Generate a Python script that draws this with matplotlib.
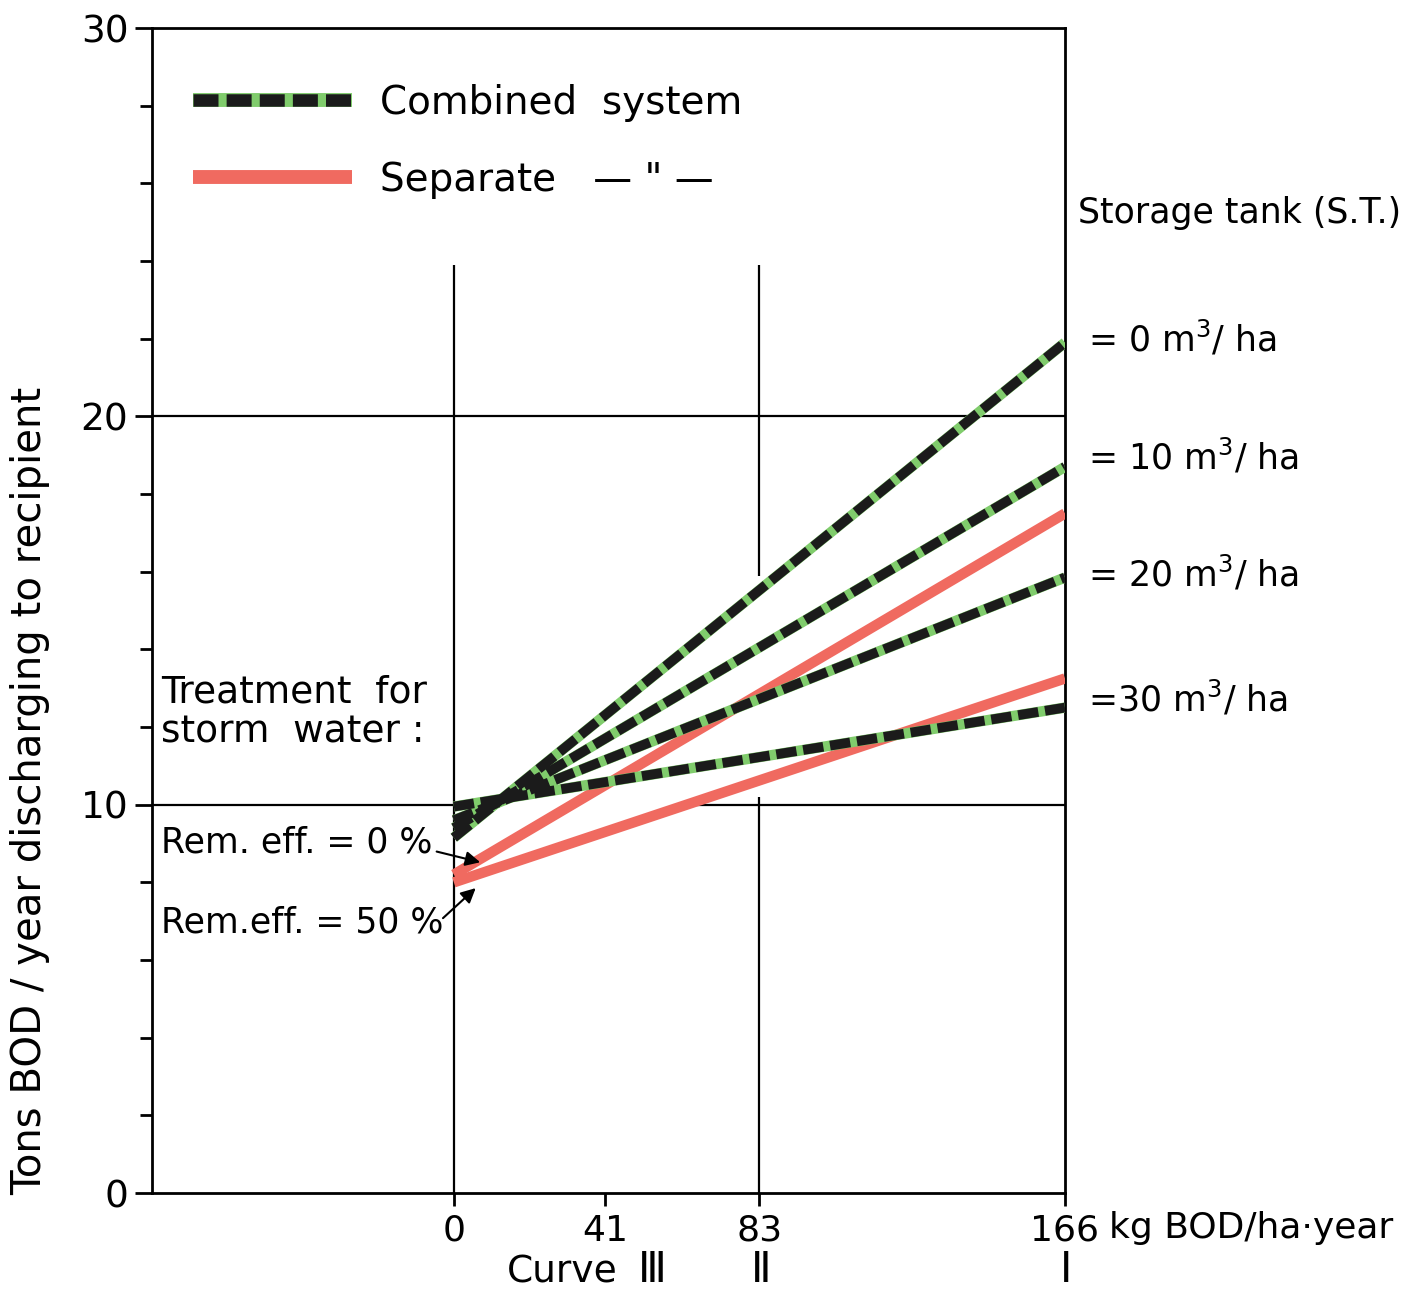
import matplotlib.pyplot as plt
from matplotlib.lines import Line2D
from matplotlib.legend_handler import HandlerTuple

plt.rcParams['font.family'] = ['DejaVu Sans']
plt.rcParams['mathtext.default'] = 'regular'

# load from the area, kg BOD/ha-year (curve III, II, I)
load = [0, 166]
xticks = [0, 41, 83, 166]
xlabels = ['0', '41', '83', '166']
curve_names = ['Ⅲ', 'Ⅱ', 'Ⅰ']
curve_x = [53.8, 83.4, 166.3]

# combined system, one line per storage tank volume
tank_labels = ['= 0 m$^3$/ ha', '= 10 m$^3$/ ha', '= 20 m$^3$/ ha', '=30 m$^3$/ ha']
comb_0 = [9.15, 21.9]
comb_10 = [9.4, 18.7]
comb_20 = [9.6, 15.85]
comb_30 = [9.95, 12.5]
tank_label_y = [21.66, 18.62, 15.61, 12.39]

# separate system, removal efficiency for storm water 0 % and 50 %
sep_0 = [8.2, 17.5]
sep_50 = [8.0, 13.25]

red = '#f06a60'
green = '#80cc6c'
black = '#1b1b1b'

fig = plt.figure(figsize=(14.16, 12.91), dpi=100)
ax = fig.add_axes([0.1073, 0.0759, 0.6448, 0.9024])
ax.set_xlim(-82, 166)
ax.set_ylim(0, 30)

# thin reference lines of the original drawing
ax.vlines([0, 83, 83], [0, 0, 15.9], [23.9, 10.2, 23.9], color='black', lw=1.6, zorder=1)
ax.hlines([20, 10, 10], [-82, -82, 64.4], [166, 0, 166], color='black', lw=1.6, zorder=1)

for ys in [sep_0, sep_50]:
    ax.plot(load, ys, color=red, lw=7.5, solid_capstyle='butt', zorder=3)
for ys in [comb_0, comb_10, comb_20, comb_30]:
    ax.plot(load, ys, color=green, lw=7.5, solid_capstyle='butt', zorder=4)
    ax.plot(load, ys, color=black, lw=7, dashes=(2.1, 0.7),
            dash_capstyle='butt', zorder=5)

# axes look
for s in ax.spines.values():
    s.set_linewidth(2)
ax.set_yticks([0, 10, 20, 30])
ax.set_yticks(range(0, 31, 2), minor=True)
ax.set_xticks(xticks)
ax.set_xticklabels(xlabels)
ax.tick_params(axis='y', which='major', length=12, width=2, pad=5, labelsize=27)
ax.tick_params(axis='y', which='minor', length=9, width=2)
ax.tick_params(axis='x', which='major', length=9, width=2, pad=6, labelsize=26)

ax.set_ylabel('Tons BOD / year discharging to recipient', fontsize=29)
ax.yaxis.set_label_coords(-0.112, 0.345)

ax.annotate('kg BOD/ha·year', xy=(166, 0), xytext=(44, -35),
            textcoords='offset pixels', ha='left', va='center',
            fontsize=26, annotation_clip=False)
ax.text(44.6, -2.3, 'Curve', ha='right', va='baseline', fontsize=27, clip_on=False)
for cx, cn in zip(curve_x, curve_names):
    ax.text(cx, -2.3, cn, ha='center', va='baseline', fontsize=30, clip_on=False)

# legend
h_comb = (Line2D([], [], color=green, lw=10, solid_capstyle='butt'),
          Line2D([], [], color=black, lw=9, dashes=(2.0, 0.65), dash_capstyle='butt'))
h_sep = Line2D([], [], color=red, lw=10, solid_capstyle='butt')
ax.legend([h_comb, h_sep], ['Combined  system', 'Separate   — " —'],
          handler_map={tuple: HandlerTuple(ndivide=1, pad=0)},
          loc='upper left', bbox_to_anchor=(0.045, 0.952), frameon=False,
          fontsize=28, handlelength=4.1, handletextpad=0.7, labelspacing=1.0,
          borderpad=0, borderaxespad=0)

# storage tank labels on the right
ax.text(169.6, 24.98, 'Storage tank (S.T.)', ha='left', va='baseline',
        fontsize=25, clip_on=False)
for ty, tl in zip(tank_label_y, tank_labels):
    ax.text(172.3, ty, tl, ha='left', va='baseline', fontsize=25, clip_on=False)

# treatment notes with arrows to the separate system lines
ax.text(-79.6, 12.62, 'Treatment  for', ha='left', va='baseline', fontsize=27)
ax.text(-79.6, 11.61, 'storm  water :', ha='left', va='baseline', fontsize=27)
ax.text(-79.6, 8.78, 'Rem. eff. = 0 %', ha='left', va='baseline', fontsize=25)
ax.text(-79.6, 6.72, 'Rem.eff. = 50 %', ha='left', va='baseline', fontsize=25)
ax.annotate('', xy=(7.9, 8.5), xytext=(-5.4, 8.81),
            arrowprops=dict(arrowstyle='-|>', color='black', lw=1.5, mutation_scale=22),
            zorder=6)
ax.annotate('', xy=(6.5, 7.9), xytext=(-3.5, 7.03),
            arrowprops=dict(arrowstyle='-|>', color='black', lw=1.5, mutation_scale=22),
            zorder=6)

fig.savefig('out.png', dpi=100)
